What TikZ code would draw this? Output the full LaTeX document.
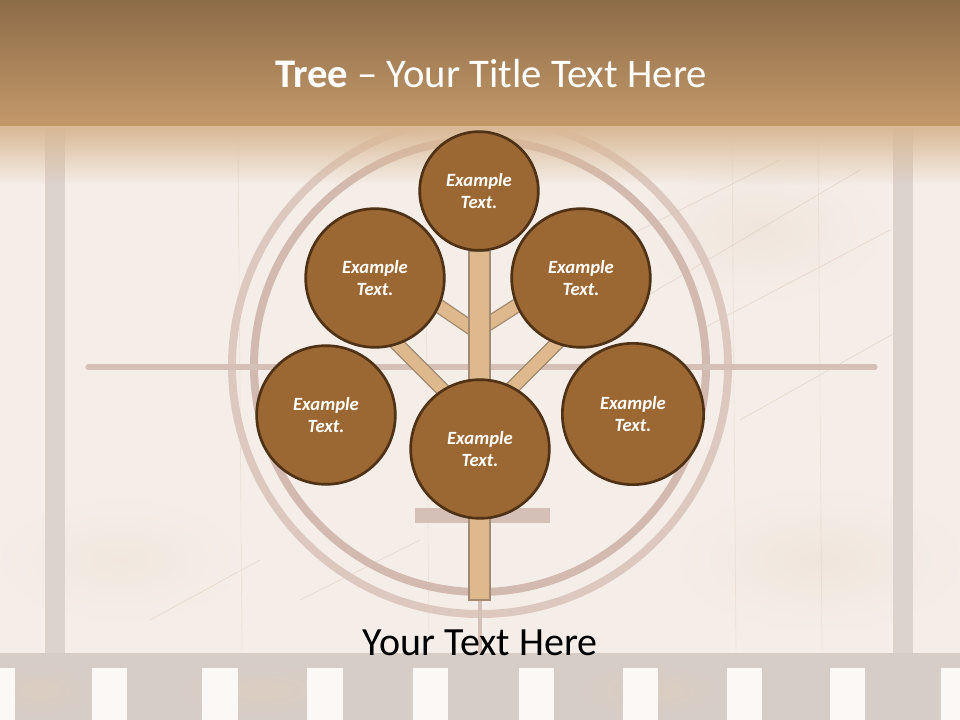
\documentclass[tikz,border=0pt]{standalone}
\usepackage{fontspec}
\setmainfont{Carlito}
\usetikzlibrary{fadings}
\tikzfading[name=fadedown, top color=transparent!0, bottom color=transparent!100]
\tikzfading[name=softspot, inner color=transparent!0, outer color=transparent!100]
\definecolor{bgc}{HTML}{F5EEE8}
\definecolor{bandtop}{HTML}{8D6C48}
\definecolor{bandbot}{HTML}{C4996A}
\definecolor{bandfade}{HTML}{D9B894}
\definecolor{ringa}{HTML}{DCC8BF}
\definecolor{ringb}{HTML}{D3BAB0}
\definecolor{crossc}{HTML}{D5C0B7}
\definecolor{filmbar}{HTML}{DDD3CD}
\definecolor{stripc}{HTML}{D7CDC7}
\definecolor{patchc}{HTML}{E2CDB9}
\definecolor{holec}{HTML}{FCF8F5}
\definecolor{scratchc}{HTML}{D9C3B2}
\definecolor{circfill}{HTML}{9B6733}
\definecolor{circline}{HTML}{4F3116}
\definecolor{limbfill}{HTML}{DDB98D}
\definecolor{limbline}{HTML}{A38A70}
\pgfdeclarelayer{backdrop}
\pgfdeclarelayer{limbs}
\pgfsetlayers{backdrop,limbs,main}
\begin{document}
\begin{tikzpicture}[x=0.75pt,y=-0.75pt,
  leaf/.style={circle, draw=circline, fill=circfill, line width=2pt, minimum size=#1,
    inner sep=0pt, text=white, align=center,
    font=\bfseries\itshape\fontsize{14}{17}\selectfont},
  limbout/.style={draw=limbline, line width=11pt},
  limbin/.style={draw=limbfill, line width=9pt},
  ring/.style={line width=6pt},
  hole/.style={fill=holec},
  scratch/.style={draw=scratchc, line width=0.5pt, opacity=0.5}
]
\useasboundingbox (0,0) rectangle (960,720);

\begin{pgfonlayer}{backdrop}
  \fill[bgc] (0,0) rectangle (960,720);
  % faint grunge
  \fill[patchc, opacity=0.25, path fading=softspot] (820,560) ellipse[x radius=140, y radius=70];
  \fill[patchc, opacity=0.2, path fading=softspot] (120,560) ellipse[x radius=120, y radius=60];
  \fill[patchc, opacity=0.25, path fading=softspot] (760,230) ellipse[x radius=120, y radius=70];
  \foreach \sx/\sy/\ex/\ey in {640/300/860/170, 700/330/890/230, 600/250/780/160, 740/420/900/330,
      150/620/260/560, 300/600/420/540}
    \draw[scratch] (\sx,\sy) -- (\ex,\ey);
  \foreach \vx in {238, 425, 732, 818}
    \draw[scratch, opacity=0.3] (\vx,140) -- (\vx+4,650);
  % film edge bars
  \fill[filmbar] (45,118) rectangle (65,655);
  \fill[filmbar] (893,118) rectangle (913,655);
  % countdown rings and crosshair
  \draw[ringa, ring] (480,366) circle[radius=248];
  \draw[ringb, ring] (480,366) circle[radius=226];
  \draw[crossc, line width=3.8pt, line cap=round] (88,367) -- (875,367);
  \draw[crossc, line width=2.6pt] (480,130) -- (480,653);
  \fill[crossc] (415,508) rectangle (550,523);
  % bottom film strip
  \fill[stripc] (0,653) rectangle (960,720);
  \fill[patchc, opacity=0.5, path fading=softspot] (650,690) ellipse[x radius=70, y radius=25];
  \fill[patchc, opacity=0.45, path fading=softspot] (260,690) ellipse[x radius=80, y radius=25];
  \fill[patchc, opacity=0.45, path fading=softspot] (40,690) ellipse[x radius=50, y radius=25];
  \foreach \hx/\hw in {0/15, 92/35, 202/36, 307/36, 413/35, 519/35, 623/35, 727/35, 830/35, 941/19}
    \fill[hole] (\hx,668) rectangle ({\hx+\hw},720);
  % top band
  \shade[top color=bandtop, bottom color=bandbot] (0,0) rectangle (960,127);
  \fill[bandfade, path fading=fadedown] (0,126.5) rectangle (960,185);
\end{pgfonlayer}

% title
\node[text=white, anchor=base, font=\fontsize{30.5}{36}\selectfont] (title) at (491,88)
  {\textbf{Tree} – Your Title Text Here};

% leaves
\node[leaf=89pt]  (top) at (479,191) {Example\\Text.};
\node[leaf=104pt] (ul)  at (375,278) {Example\\Text.};
\node[leaf=104pt] (ur)  at (581,278) {Example\\Text.};
\node[leaf=104pt] (ll)  at (326,415) {Example\\Text.};
\node[leaf=104pt] (bc)  at (480,449) {Example\\Text.};
\node[leaf=106pt] (lr)  at (633,414) {Example\\Text.};

% caption
\node[text=black, anchor=base, font=\fontsize{30}{36}\selectfont] (caption) at (480,655)
  {Your Text Here};

% trunk and branches
\coordinate (j1) at (480,334);
\coordinate (e1) at (430,300);
\coordinate (j2) at (480,329);
\coordinate (e2) at (535,294);
\coordinate (j3) at (480,427);
\coordinate (e3) at (390,337);
\coordinate (j4) at (480,420);
\coordinate (e4) at (565,335);
\coordinate (trunkbase) at (480,600);
\begin{pgfonlayer}{limbs}
  \foreach \a/\b in {j1/e1, j2/e2, j3/e3, j4/e4} {
    \draw[limbout] (\a) -- (\b);
    \draw[limbin] (\a) -- (\b);
  }
  \draw[fill=limbfill, draw=limbline, line width=1.1pt]
    ([xshift=-7.5pt]top.south) rectangle ([xshift=7.5pt]trunkbase);
\end{pgfonlayer}
\end{tikzpicture}
\end{document}
